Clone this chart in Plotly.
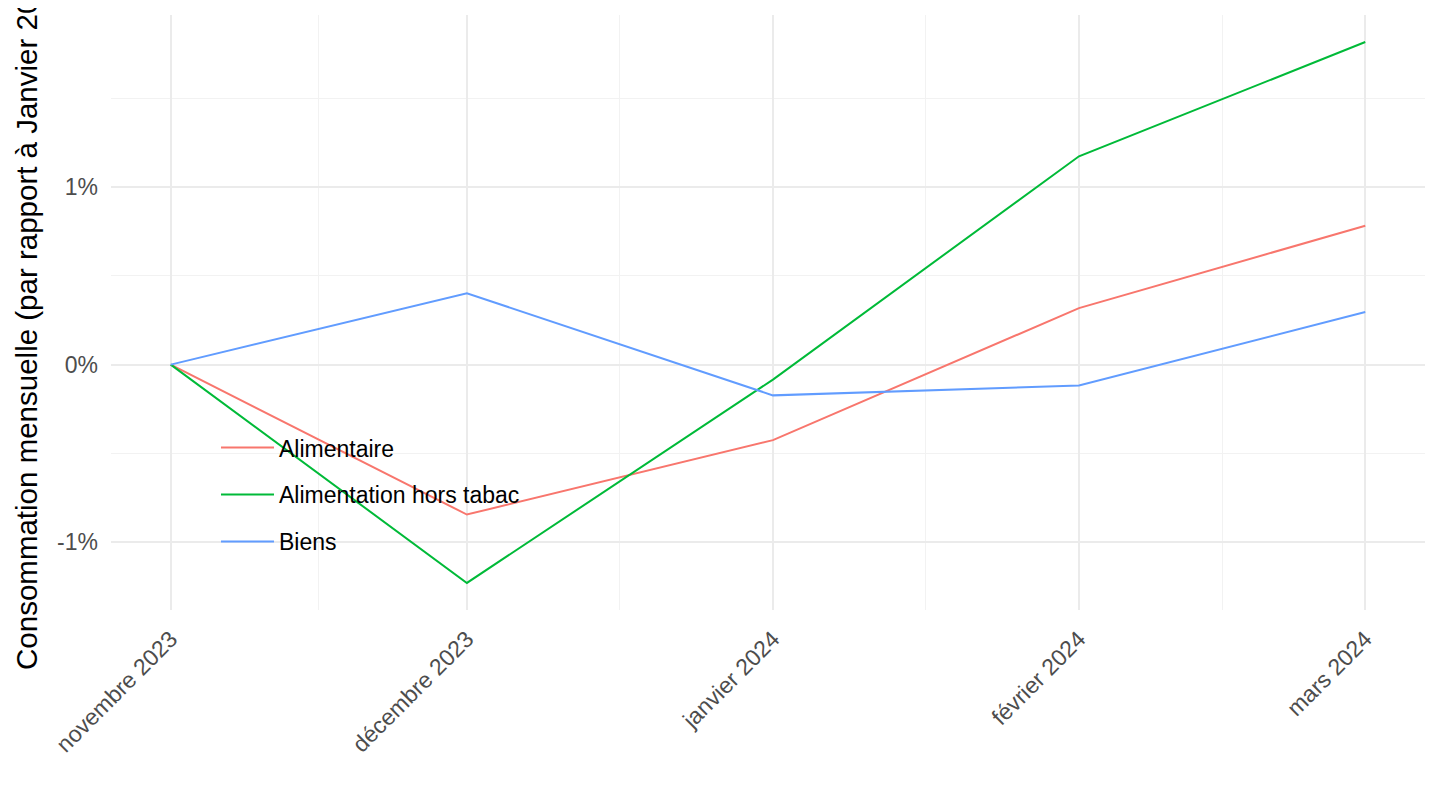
import plotly.graph_objects as go

dates = ["2023-11-01", "2023-12-01", "2024-01-01", "2024-02-01", "2024-03-01"]
tick_labels = ["novembre 2023", "décembre 2023", "janvier 2024", "février 2024", "mars 2024"]
series_names = ["Alimentaire", "Alimentation hors tabac", "Biens"]
alimentaire = [0.0, -0.844, -0.425, 0.318, 0.782]
alim_hors_tabac = [0.0, -1.229, -0.084, 1.173, 1.816]
biens = [0.0, 0.402, -0.173, -0.117, 0.296]
colors = ["#F8766D", "#00BA38", "#619CFF"]
y_ticks = [-1, 0, 1]
y_tick_labels = ["-1%", "0%", "1%"]
x_minor = ["2023-11-16", "2023-12-16 12:00", "2024-01-16 12:00", "2024-02-15 12:00"]

fig = go.Figure()
for name, vals, col in zip(series_names, [alimentaire, alim_hors_tabac, biens], colors):
    fig.add_trace(go.Scatter(x=dates, y=vals, mode="lines", name=name,
                             legendgroup=name,
                             line=dict(color=col, width=2)))

fig.update_layout(
    width=1432, height=802,
    paper_bgcolor="white", plot_bgcolor="white",
    font=dict(family="Liberation Sans, Arial, sans-serif", color="black"),
    margin=dict(l=103, r=15, t=7, b=200, autoexpand=False),
    legend=dict(x=0.0799, y=0.309, xanchor="left", yanchor="top",
                bgcolor="rgba(0,0,0,0)", font=dict(size=23, color="black"),
                tracegroupgap=14, itemwidth=53),
    showlegend=True,
)
fig.update_xaxes(
    type="date", automargin=False,
    range=["2023-10-25 22:48", "2024-03-07 01:12"],
    tickvals=dates, ticktext=tick_labels, tickangle=-45,
    tickfont=dict(size=23, color="#4D4D4D"),
    showgrid=True, gridcolor="#EBEBEB", gridwidth=2,
    minor=dict(tickvals=x_minor, showgrid=True, gridcolor="#F2F2F2", gridwidth=1),
    zeroline=False, showline=False, ticks="",
    ticklabelstandoff=10,
)
fig.update_yaxes(
    automargin=False,
    range=[-1.3813, 1.9683],
    tickvals=y_ticks, ticktext=y_tick_labels,
    tickfont=dict(size=23, color="#4D4D4D"),
    showgrid=True, gridcolor="#EBEBEB", gridwidth=2,
    minor=dict(dtick=0.5, tick0=0, showgrid=True, gridcolor="#F2F2F2", gridwidth=1),
    zeroline=False, showline=False, ticks="",
    ticklabelstandoff=12,
    title=dict(text="Consommation mensuelle (par rapport à Janvier 2024)",
               font=dict(size=29.5, color="black"), standoff=10),
)
fig.write_html("out.html")
